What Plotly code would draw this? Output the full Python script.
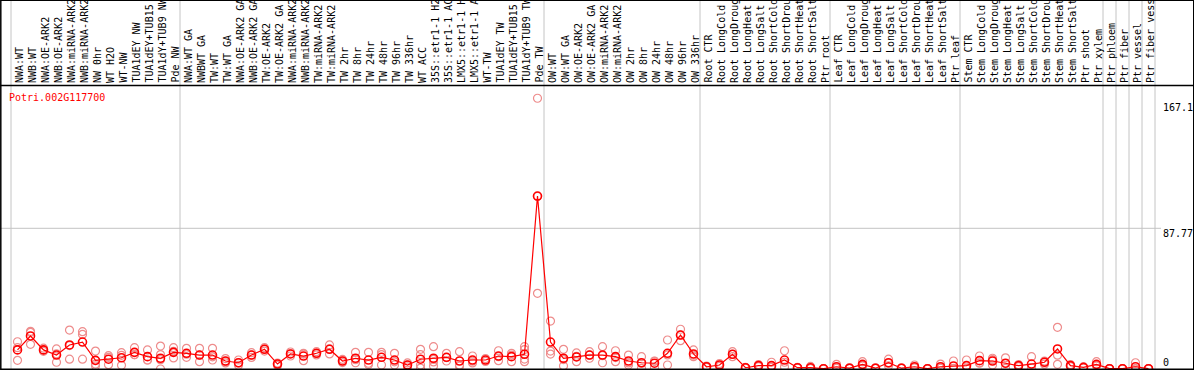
import plotly.graph_objects as go

# ---------------- data ----------------
gene = "Potri.002G117700"

labels = [
    "NWA:WT", "NWB:WT", "NWA:OE-ARK2", "NWB:OE-ARK2", "NWA:miRNA-ARK2", "NWB:miRNA-ARK2",
    "NW 0hr", "WT H2O", "WT-NW", "TUA1dEY NW", "TUA1dEY+TUB15 NW", "TUA1dY+TUB9 NW", "Pde NW",
    "NWA:WT GA", "NWBWT GA", "TW:WT", "TW:WT GA", "NWA:OE-ARK2 GA", "NWB:OE-ARK2 GA",
    "TW:OE-ARK2", "TW:OE-ARK2 GA", "NWA:miRNA-ARK2", "NWB:miRNA-ARK2", "TW:miRNA-ARK2",
    "TW:miRNA-ARK2", "TW 2hr", "TW 8hr", "TW 24hr", "TW 48hr", "TW 96hr", "TW 336hr",
    "WT ACC", "35S::etr1-1 H2O", "35S::etr1-1 ACC", "LMX5::etr1-1 H2O", "LMX5::etr1-1 ACC",
    "WT-TW", "TUA1dEY TW", "TUA1dEY+TUB15 TW", "TUA1dY+TUB9 TW", "Pde TW",
    "OW:WT", "OW:WT GA", "OW:OE-ARK2", "OW:OE-ARK2 GA", "OW:miRNA-ARK2", "OW:miRNA-ARK2",
    "OW 2hr", "OW 8hr", "OW 24hr", "OW 48hr", "OW 96hr", "OW 336hr",
    "Root CTR", "Root LongCold", "Root LongDrought", "Root LongHeat", "Root LongSalt",
    "Root ShortCold", "Root ShortDrought", "Root ShortHeat", "Root ShortSalt", "Ptr root",
    "Leaf CTR", "Leaf LongCold", "Leaf LongDrought", "Leaf LongHeat", "Leaf LongSalt",
    "Leaf ShortCold", "Leaf ShortDrought", "Leaf ShortHeat", "Leaf ShortSalt", "Ptr leaf",
    "Stem CTR", "Stem LongCold", "Stem LongDrought", "Stem LongHeat", "Stem LongSalt",
    "Stem ShortCold", "Stem ShortDrought", "Stem ShortHeat", "Stem ShortSalt", "Ptr shoot",
    "Ptr xylem", "Ptr phloem", "Ptr fiber", "Ptr vessel", "Ptr fiber vessel",
]

mean_vals = [
    11.9, 20.6, 11.9, 8.7, 15.0, 16.8, 5.4, 6.1, 7.0, 10.4, 7.7, 6.7, 10.4,
    9.8, 8.7, 8.7, 5.0, 3.9, 8.7, 12.3, 3.1, 9.4, 8.1, 9.8, 12.3, 5.0, 6.7, 5.6,
    7.3, 5.6, 2.5, 6.1, 6.7, 7.3, 5.0, 5.6, 5.6, 8.1, 7.7, 9.2, 107.9,
    16.8, 6.7, 7.5, 8.7, 8.7, 7.7, 5.0, 3.9, 3.6, 9.8, 21.2, 9.4,
    1.4, 2.5, 9.2, 0.8, 2.1, 2.1, 5.6, 0.8, 0.8, 0.2,
    1.4, 0.5, 2.9, 0.5, 3.9, 0.5, 1.4, 0.2, 1.4, 1.9,
    2.1, 5.2, 5.0, 3.6, 2.1, 3.1, 4.2, 12.5, 2.1, 1.0,
    2.9, 0.2, 0.2, 1.4, 0.2,
]

rep_a = [
    17.0, 22.9, 13.0, 12.5, 24.3, 23.3, 11.2, 8.3, 10.2, 13.3, 11.9, 14.3, 13.3,
    12.9, 12.9, 12.9, 6.5, 5.6, 10.2, 13.3, 3.7, 10.6, 9.8, 10.8, 15.0, 6.0, 10.4, 10.4,
    10.4, 9.8, 3.8, 12.3, 13.9, 9.8, 10.8, 8.1, 6.5, 11.4, 9.8, 13.9, 168.9,
    29.9, 12.3, 10.0, 10.8, 13.9, 11.4, 8.7, 7.7, 5.0, 18.1, 24.8, 11.9,
    1.8, 3.4, 10.8, 1.0, 2.8, 4.2, 11.4, 1.0, 1.6, 0.3,
    2.9, 0.8, 4.6, 0.7, 6.1, 0.7, 2.5, 0.3, 3.1, 5.0,
    5.6, 8.1, 6.7, 7.0, 2.8, 7.7, 4.6, 26.0, 2.8, 1.3,
    4.6, 0.3, 0.3, 3.9, 0.3,
]

rep_b = [
    5.4, 15.4, 11.0, 4.2, 6.1, 21.6, 3.1, 2.7, 2.3, 8.9, 5.6, 0.0, 6.9,
    7.3, 4.6, 5.6, 3.8, 2.3, 7.2, 11.2, 2.2, 8.1, 5.2, 8.8, 9.4, 4.0, 3.9, 3.6,
    2.5, 2.5, 1.3, 2.5, 4.4, 5.0, 2.5, 3.8, 4.7, 5.2, 4.6, 6.2, 47.2,
    11.2, 1.9, 4.6, 6.7, 3.9, 4.6, 2.5, 0.4, 1.0, 2.5, 17.7, 7.7,
    1.0, 1.6, 7.7, 0.6, 1.4, 1.0, 1.2, 0.6, 0.4, 0.1,
    0.6, 0.3, 2.2, 0.3, 2.0, 0.3, 0.8, 0.1, 0.5, 0.3,
    0.3, 3.6, 2.5, 0.4, 1.4, 0.8, 5.0, 2.9, 1.4, 0.7,
    2.0, 0.1, 0.1, 0.2, 0.1,
]

rep_c = [
    13.3, 23.5, 11.7, 9.4, 14.6, 6.1, 2.0, 7.3, 8.5, 9.0, 5.6, 5.8, 11.0,
    9.2, 8.7, 7.6, 4.7, 3.8, 8.7, 12.4, 3.4, 9.5, 9.3, 9.8, 12.5, 5.0, 5.8, 2.8,
    9.0, 4.5, 2.4, 0.6, 1.8, 7.1, 1.7, 4.9, 5.6, 7.7, 8.7, 4.6, 107.6,
    9.3, 5.9, 7.9, 8.6, 8.3, 7.1, 3.8, 3.6, 4.8, 8.8, 21.1, 8.6,
    1.4, 2.5, 9.1, 0.8, 2.1, 1.1, 4.2, 0.8, 0.4, 0.2,
    0.7, 0.4, 1.9, 0.5, 3.6, 0.5, 0.9, 0.2, 0.6, 0.4,
    0.4, 3.9, 5.8, 3.4, 2.1, 0.8, 3.0, 8.6, 2.1, 1.0,
    2.1, 0.2, 0.2, 0.1, 0.2,
]

rep_d = [None] * 88
rep_d[11] = 9.0
rep_d[31] = 9.0
rep_d[32] = 6.0
rep_d[39] = 12.1

axis_ticks = [0, 87.77, 167.1]
axis_tick_text = ["0", "87.77", "167.1"]
group_bounds = [0, 13, 41, 53, 63, 73, 84, 85, 86, 87, 88]

# ---------------- pixel helpers (layout only) ----------------
W, H = 1194, 370
COL0, COLW = 11, 13          # pixel x of first column edge, column width
Y0PX, YSC = 369, 1.603       # pixel y of value 0, pixels per unit


def xd(px):
    return (px - COL0) / COLW


def yd(py):
    return (Y0PX - py) / YSC


MONO = "DejaVu Sans Mono"

rx, ry = [], []
for i in range(len(labels)):
    for arr in (rep_a, rep_b, rep_c, rep_d):
        if arr[i] is not None:
            rx.append(i + 0.5)
            ry.append(arr[i])

xs = [i + 0.5 for i in range(len(labels))]

fig = go.Figure()
fig.add_trace(go.Scatter(
    x=rx, y=ry, mode="markers",
    marker=dict(symbol="circle-open", size=8, color="rgb(238,140,140)",
                line=dict(width=1.2, color="rgb(238,140,140)")),
    hoverinfo="skip", showlegend=False,
))
fig.add_trace(go.Scatter(
    x=xs, y=mean_vals, mode="lines+markers",
    line=dict(color="red", width=1.2),
    marker=dict(symbol="circle-open", size=8, color="red",
                line=dict(width=1.6, color="red")),
    showlegend=False,
))

shapes = []
for b in group_bounds:
    shapes.append(dict(type="line", xref="x", yref="y",
                       x0=b, x1=b, y0=yd(0), y1=yd(369),
                       line=dict(color="#c4c4c4", width=1), layer="below"))
shapes.append(dict(type="line", xref="x", yref="y",
                   x0=xd(0), x1=xd(1161), y0=axis_ticks[1], y1=axis_ticks[1],
                   line=dict(color="#c4c4c4", width=1), layer="below"))
shapes.append(dict(type="line", xref="x", yref="y",
                   x0=xd(0), x1=xd(1194), y0=yd(85.5), y1=yd(85.5),
                   line=dict(color="black", width=1.5)))
shapes.append(dict(type="line", xref="x", yref="y", x0=xd(0.5), x1=xd(1194),
                   y0=yd(0.5), y1=yd(0.5), line=dict(color="black", width=1)))
shapes.append(dict(type="line", xref="x", yref="y", x0=xd(0.5), x1=xd(1194),
                   y0=yd(369.3), y1=yd(369.3), line=dict(color="black", width=1.5)))
shapes.append(dict(type="line", xref="x", yref="y", x0=xd(0.8), x1=xd(0.8),
                   y0=yd(0), y1=yd(370), line=dict(color="black", width=1.5)))
shapes.append(dict(type="line", xref="x", yref="y", x0=xd(1193.5), x1=xd(1193.5),
                   y0=yd(0), y1=yd(370), line=dict(color="black", width=1)))

annotations = []
for i, lab in enumerate(labels):
    annotations.append(dict(
        x=i + 0.5 + 0.12, y=yd(84), xref="x", yref="y",
        text=lab, textangle=-90, showarrow=False,
        xanchor="center", yanchor="bottom",
        font=dict(family=MONO, size=10, color="black"), borderpad=0,
    ))

annotations.append(dict(
    x=xd(8), y=yd(97), xref="x", yref="y", text=gene, showarrow=False,
    xanchor="left", yanchor="middle",
    font=dict(family=MONO, size=10, color="red"), borderpad=0,
))

tick_py = {0: 362, 1: 233, 2: 107}
for k, (tv, tt) in enumerate(zip(axis_ticks, axis_tick_text)):
    annotations.append(dict(
        x=xd(1162), y=yd(tick_py[k]), xref="x", yref="y", text=tt,
        showarrow=False, xanchor="left", yanchor="middle",
        font=dict(family=MONO, size=10, color="black"), borderpad=0,
    ))

fig.update_layout(
    width=W, height=H,
    margin=dict(l=0, r=0, t=0, b=0, pad=0),
    paper_bgcolor="white", plot_bgcolor="white",
    xaxis=dict(range=[xd(0), xd(W)], visible=False, fixedrange=True),
    yaxis=dict(range=[yd(H), yd(0)], visible=False, fixedrange=True),
    shapes=shapes, annotations=annotations,
    showlegend=False,
)

fig.write_html(
    "out.html",
    config={"displayModeBar": False},
    post_script="document.body.style.margin='0';document.body.style.overflow='hidden';",
)
